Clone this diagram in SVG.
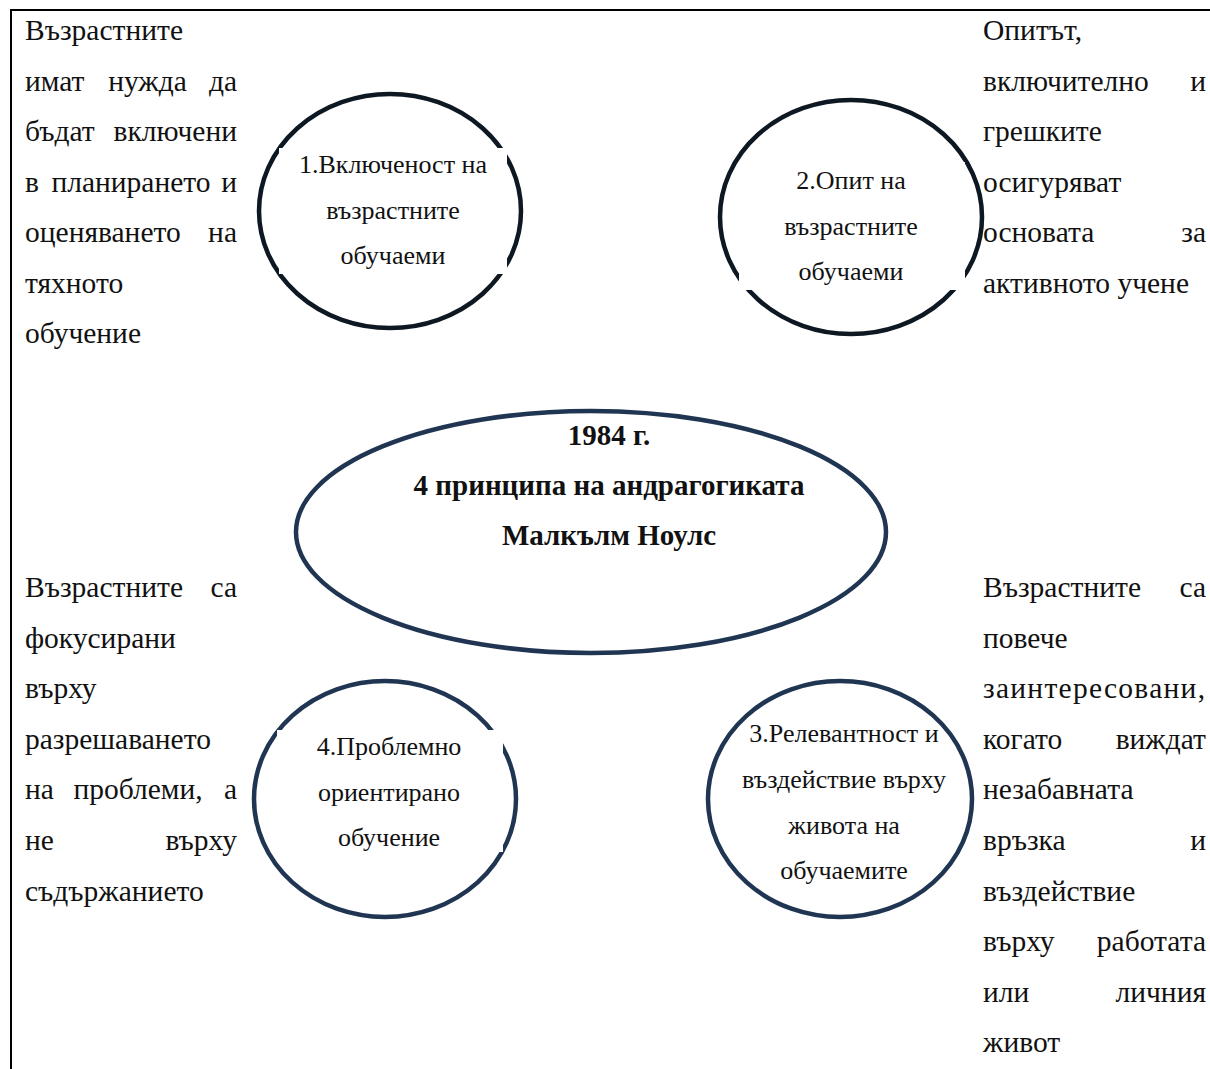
<svg xmlns="http://www.w3.org/2000/svg" width="1210" height="1069" viewBox="0 0 1210 1069">
<style>
.side{font-family:"Liberation Serif","Times New Roman",serif;font-size:29.5px;fill:#111}
.ct{font-family:"Liberation Serif","Times New Roman",serif;font-size:26px;fill:#111;text-anchor:middle}
.hd{font-family:"Liberation Serif","Times New Roman",serif;font-size:29px;font-weight:bold;fill:#111;text-anchor:middle}
.e{text-anchor:end}
.m{text-anchor:middle}
.dk{fill:#fff;stroke:#0e1822;stroke-width:4.5}
.nv{fill:#fff;stroke:#1f3552;stroke-width:4.5}
.box{fill:#fff}
</style>
<rect width="1210" height="1069" fill="#fff"/>
<g id="frame" stroke="#000" stroke-width="2" fill="none">
<line x1="10" y1="10" x2="1210" y2="10"/>
<line x1="11" y1="10" x2="11" y2="1069"/>
</g>
<g id="connectors"></g>
<g id="text-top-left" class="side">
<text x="25" y="40">Възрастните</text>
<text y="90.5"><tspan x="25">имат</tspan><tspan x="147.5" class="m">нужда</tspan><tspan x="237" class="e">да</tspan></text>
<text y="141"><tspan x="25">бъдат</tspan><tspan x="237" class="e">включени</tspan></text>
<text y="191.5"><tspan x="25">в</tspan><tspan x="131" class="m">планирането</tspan><tspan x="237" class="e">и</tspan></text>
<text y="242"><tspan x="25">оценяването</tspan><tspan x="237" class="e">на</tspan></text>
<text x="25" y="292.5">тяхното</text>
<text x="25" y="343">обучение</text>
</g>
<g id="text-top-right" class="side">
<text x="983" y="40">Опитът,</text>
<text y="90.5"><tspan x="983">включително</tspan><tspan x="1206" class="e">и</tspan></text>
<text x="983" y="141">грешките</text>
<text x="983" y="191.5">осигуряват</text>
<text y="242"><tspan x="983">основата</tspan><tspan x="1206" class="e">за</tspan></text>
<text x="983" y="292.5">активното учене</text>
</g>
<g id="text-bottom-left" class="side">
<text y="597"><tspan x="25">Възрастните</tspan><tspan x="237" class="e">са</tspan></text>
<text x="25" y="647.6">фокусирани</text>
<text x="25" y="698.2">върху</text>
<text x="25" y="748.8">разрешаването</text>
<text y="799.4"><tspan x="25">на</tspan><tspan x="138" class="m">проблеми,</tspan><tspan x="237" class="e">а</tspan></text>
<text y="850"><tspan x="25">не</tspan><tspan x="237" class="e">върху</tspan></text>
<text x="25" y="900.6">съдържанието</text>
</g>
<g id="text-bottom-right" class="side">
<text y="597"><tspan x="983">Възрастните</tspan><tspan x="1206" class="e">са</tspan></text>
<text x="983" y="647.6">повече</text>
<text x="983" y="698.2" textLength="222" lengthAdjust="spacing">заинтересовани,</text>
<text y="748.8"><tspan x="983">когато</tspan><tspan x="1206" class="e">виждат</tspan></text>
<text x="983" y="799.4">незабавната</text>
<text y="850"><tspan x="983">връзка</tspan><tspan x="1206" class="e">и</tspan></text>
<text x="983" y="900.6">въздействие</text>
<text y="951.2"><tspan x="983">върху</tspan><tspan x="1206" class="e">работата</tspan></text>
<text y="1001.8"><tspan x="983">или</tspan><tspan x="1206" class="e">личния</tspan></text>
<text x="983" y="1052.4">живот</text>
</g>
<g id="node-center">
<ellipse class="nv" cx="591" cy="532" rx="295" ry="121"/>
<text class="hd" x="609" y="445">1984 г.</text>
<text class="hd" x="609" y="495">4 принципа на андрагогиката</text>
<text class="hd" x="609" y="545">Малкълм Ноулс</text>
</g>
<g id="node-1">
<ellipse class="dk" cx="390" cy="211" rx="131" ry="117"/>
<rect class="box" x="279" y="148" width="228" height="126"/>
<text class="ct" x="393" y="173">1.Включеност на</text>
<text class="ct" x="393" y="219">възрастните</text>
<text class="ct" x="393" y="264">обучаеми</text>
</g>
<g id="node-2">
<ellipse class="dk" cx="851" cy="217" rx="131" ry="117"/>
<rect class="box" x="739" y="162" width="226" height="128"/>
<text class="ct" x="851" y="189">2.Опит на</text>
<text class="ct" x="851" y="235">възрастните</text>
<text class="ct" x="851" y="280">обучаеми</text>
</g>
<g id="node-3">
<ellipse class="nv" cx="840" cy="799" rx="132" ry="118"/>
<text class="ct" x="844" y="742">3.Релевантност и</text>
<text class="ct" x="844" y="788">въздействие върху</text>
<text class="ct" x="844" y="834">живота на</text>
<text class="ct" x="844" y="879">обучаемите</text>
</g>
<g id="node-4">
<ellipse class="nv" cx="385" cy="799" rx="131" ry="118"/>
<rect class="box" x="277" y="730" width="226" height="122"/>
<text class="ct" x="389" y="755">4.Проблемно</text>
<text class="ct" x="389" y="801">ориентирано</text>
<text class="ct" x="389" y="846">обучение</text>
</g>
</svg>
